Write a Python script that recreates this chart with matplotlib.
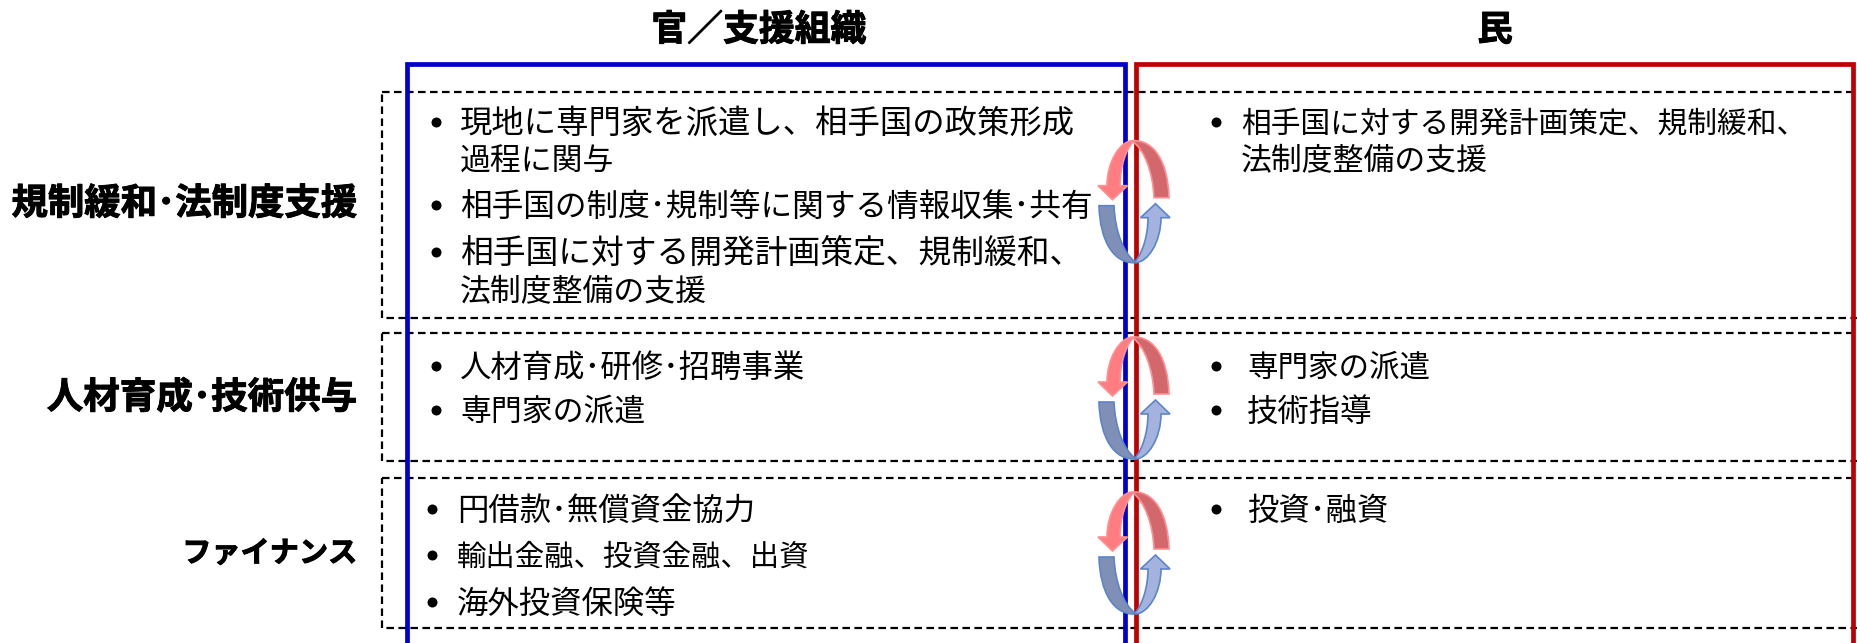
import matplotlib
matplotlib.use("Agg")
import matplotlib.pyplot as plt
from matplotlib.patches import PathPatch, Rectangle
from matplotlib.path import Path
from matplotlib.transforms import Affine2D
import matplotlib.patheffects as pe

plt.rcParams['font.family'] = ['Noto Sans CJK JP', 'DejaVu Sans']

W, H = 1857, 643
headers = ["官／支援組織", "民"]
# the halfwidth dot stands in for the narrow middle dot of the original font
row_labels = ["規制緩和･法制度支援", "人材育成･技術供与", "ファイナンス"]

public_items = [
    [["現地に専門家を派遣し、相手国の政策形成", "過程に関与"],
     ["相手国の制度･規制等に関する情報収集･共有"],
     ["相手国に対する開発計画策定、規制緩和、", "法制度整備の支援"]],
    [["人材育成･研修･招聘事業"], ["専門家の派遣"]],
    [["円借款･無償資金協力"], ["輸出金融、投資金融、出資"], ["海外投資保険等"]],
]
private_items = [
    [["相手国に対する開発計画策定、規制緩和、", "法制度整備の支援"]],
    [["専門家の派遣"], ["技術指導"]],
    [["投資･融資"]],
]

# layout in reference pixels
row_boxes = [(92, 318), (333, 461), (478, 628)]
row_label_y = [204, 398, 553]
row_label_size = [26.2, 26.3, 21]
public_y = [[124, 162, 207, 254, 293], [368, 412], [511, 557, 604]]
private_y = [[124, 162], [368, 412], [511]]
public_size = [[23.3, 22.2, 22.8, 23.6, 22.2], [22.6, 22.2], [22.6, 21.2, 22.6]]
private_size = [[21.4, 22.2], [22.0, 22.6], [22.6]]
public_x = [(436, 460), (436, 460), (432, 457)]
private_x = [(1216, 1241), (1216, 1247), (1216, 1247)]
arrow_y = [201.7, 398, 553]

fig = plt.figure(figsize=(W / 100, H / 100), dpi=100)
ax = fig.add_axes([0, 0, 1, 1])
ax.set_xlim(0, W)
ax.set_ylim(H, 0)
ax.axis("off")


def draw_bullets(items, ys, sizes, xs):
    i = 0
    for item in items:
        ax.plot(xs[0], ys[i] - 2, "o", color="black", ms=7.2, mew=0, zorder=5)
        for line in item:
            ax.text(xs[1], ys[i], line, fontsize=sizes[i], va="center", ha="left", zorder=5)
            i += 1


def draw_arrow(cx, cy, flip, c_head, c_tail, c_edge):
    # shape given around the arrow pair centre, y goes down
    head = [(-1, -61), (-14, -61), (-27, -40), (-27, -16), (-36, -16), (-21.5, -2),
            (-6.5, -16), (-14, -16), (-14, -35), (-8, -52), (-1, -60)]
    tail = [(-1, -61), (20, -62), (34, -40), (35, -4), (20, -4), (19, -30), (10, -52), (-1, -60)]
    head_codes = [Path.MOVETO] + [Path.CURVE4] * 3 + [Path.LINETO] * 4 + [Path.CURVE4] * 3
    tail_codes = [Path.MOVETO] + [Path.CURVE4] * 3 + [Path.LINETO] + [Path.CURVE4] * 3
    tr = Affine2D().rotate_deg(180 if flip else 0).translate(cx, cy)
    ax.add_patch(PathPatch(Path(tail, tail_codes).transformed(tr), fc=c_tail, ec=c_edge,
                           lw=1.2, zorder=6))
    ax.add_patch(PathPatch(Path(head, head_codes).transformed(tr), fc=c_head, ec=c_edge,
                           lw=1.2, zorder=7))


# dashed row boxes
for top, bottom in row_boxes:
    ax.add_patch(Rectangle((382, top), W + 20 - 382, bottom - top, fill=False, ec="black",
                           lw=1.6, ls=(0, (3.4, 2)), zorder=2))

# column frames, open at the bottom
ax.plot([407, 407, 1125, 1125], [H + 5, 64, 64, H + 5], color="#0000CC", lw=3.4,
        solid_joinstyle="miter", zorder=3)
ax.plot([1136, 1136, 1853, 1853], [H + 5, 64, 64, H + 5], color="#C00000", lw=3.4,
        solid_joinstyle="miter", zorder=3)

heavy = [pe.withStroke(linewidth=0.7, foreground="black")]
ax.text(759, 30, headers[0], fontsize=25.8, fontweight="bold", ha="center", va="center",
        path_effects=heavy)
ax.text(1495, 30, headers[1], fontsize=25.5, fontweight="bold", ha="center", va="center",
        path_effects=heavy)

for label, y, size in zip(row_labels, row_label_y, row_label_size):
    ax.text(357, y, label, fontsize=size, fontweight="bold", ha="right", va="center",
            path_effects=heavy)

for r in range(3):
    draw_bullets(public_items[r], public_y[r], public_size[r], public_x[r])
    draw_bullets(private_items[r], private_y[r], private_size[r], private_x[r])
    draw_arrow(1134, arrow_y[r], False, "#FF7C80", "#D2686C", "#FF8F92")
    draw_arrow(1134, arrow_y[r], True, "#A3B3DE", "#7F8FB5", "#5B85CC")

fig.savefig("out.png", dpi=100)
